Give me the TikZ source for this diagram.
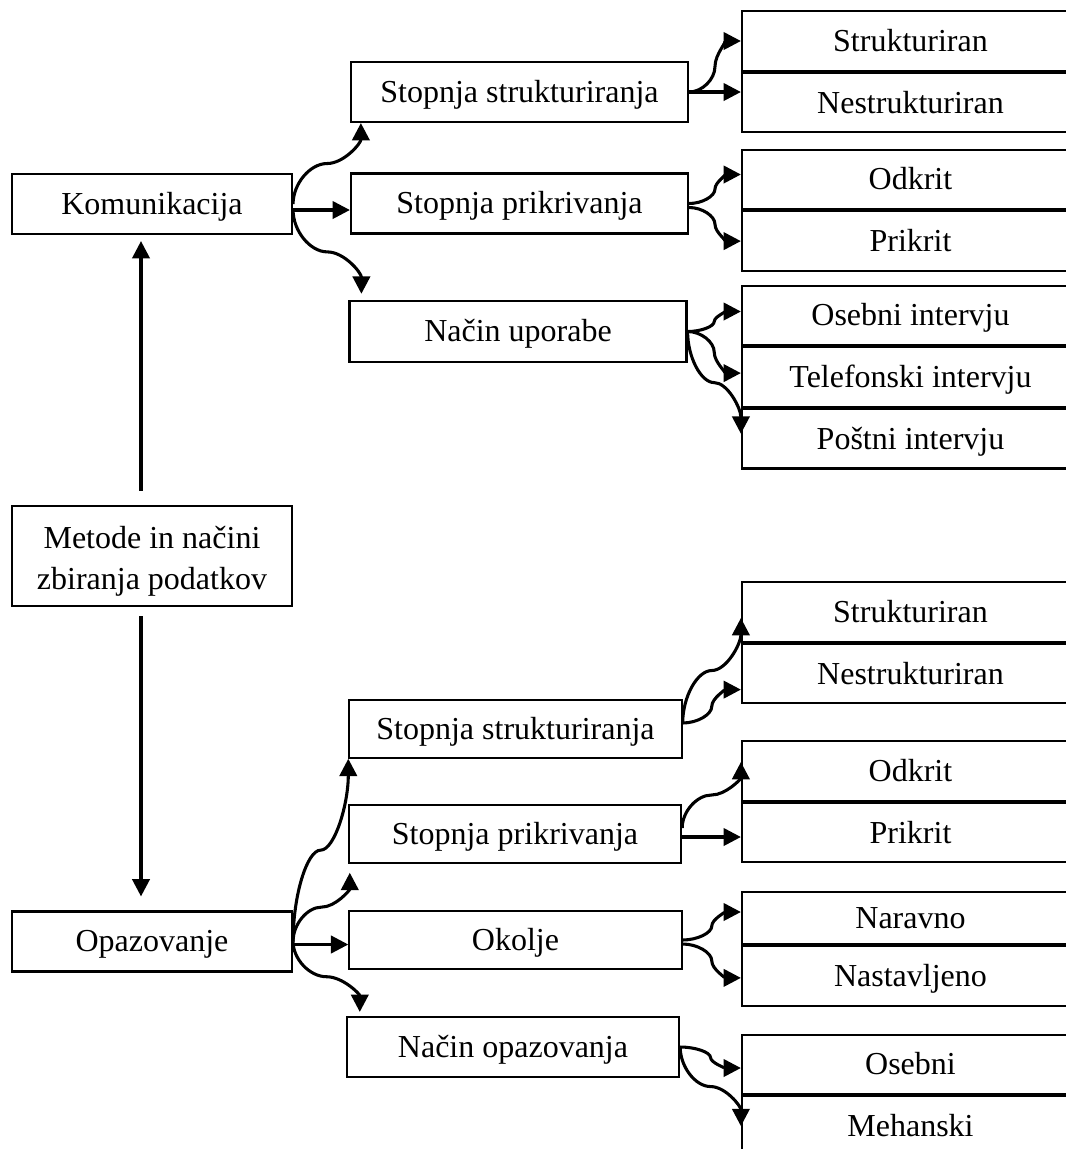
\documentclass[tikz,border=0pt]{standalone}
\usepackage{fontspec}
\setmainfont{Liberation Serif}
\usepackage{tikz}
\usetikzlibrary{positioning,arrows.meta,calc}

\begin{document}
\begin{tikzpicture}[
        x=0.375pt, y=-0.375pt,
        font=\fontsize{12pt}{15.5pt}\selectfont,
        frame/.style={rectangle, draw, line width=0.8pt, inner sep=0pt,
        align=center},
        txt/.style={text height=9.3pt, text depth=1.5pt},
        lbox/.style={frame, txt, minimum width=105pt, minimum height=22.5pt},
        mbox/.style={frame, txt, minimum width=126.4pt, minimum height=22.5pt},
        nbox/.style={frame, txt, minimum width=124.6pt, minimum height=21.5pt},
        cell/.style={frame, txt, minimum width=126.4pt, minimum height=22.3pt},
        arr/.style={-{Triangle[length=6.5pt, width=6.5pt]}, line width=1.15pt},
        vcurve/.style={to path={let \p1=(\tikztostart), \p2=(\tikztotarget),
        \p3=($(\p1)!.5!(\p2)$), \p4=($(\p1)!.5!(\p3)$), \p5=($(\p3)!.5!(\p2)$) in
        .. controls (\x1,\y4) and (\x4,\y3) .. (\p3)
        .. controls (\x5,\y3) and (\x2,\y5) .. (\p2)}},
        hcurve/.style={to path={let \p1=(\tikztostart), \p2=(\tikztotarget),
        \p3=($(\p1)!.5!(\p2)$), \p4=($(\p1)!.5!(\p3)$), \p5=($(\p3)!.5!(\p2)$) in
        .. controls (\x4,\y1) and (\x3,\y4) .. (\p3)
        .. controls (\x3,\y5) and (\x5,\y2) .. (\p2)}},
      ]
      \useasboundingbox (0,0) rectangle (1066,1149);
      \clip (0,0) rectangle (1066,1149);

      \node[lbox] (K) at (152, 204) {Komunikacija};
      \node[frame, minimum width=105pt, minimum height=37.5pt] (M) at (152, 556)
      {\rule{0pt}{12.5pt}Metode in načini\\zbiranja podatkov};
      \node[lbox] (Op) at (152, 941.5) {Opazovanje};

      \node[mbox] (SS1) at (519.5, 92) {Stopnja strukturiranja};
      \node[mbox] (SP1) at (519.5, 203.5) {Stopnja prikrivanja};
      \node[mbox, minimum height=23pt] (NU) at (518, 331.5) {Način uporabe};

      \node[nbox] (SS2) at (515.5, 729) {Stopnja strukturiranja};
      \node[nbox] (SP2) at (515, 834) {Stopnja prikrivanja};
      \node[nbox] (Ok) at (515.5, 940) {Okolje};
      \node[nbox, minimum height=22.5pt] (NO) at (513, 1047) {Način opazovanja};

      \node[cell] (S1) at (910.5, 41) {Strukturiran};
      \node[cell, below=0pt of S1] (N1) {Nestrukturiran};
      \node[cell] (O1) at (910.5, 179.5) {Odkrit};
      \node[cell, below=0pt of O1] (P1) {Prikrit};
      \node[cell] (Os) at (910.5, 315.5) {Osebni intervju};
      \node[cell, below=0pt of Os] (Te) {Telefonski intervju};
      \node[cell, below=0pt of Te] (Po) {Poštni intervju};

      \node[cell] (S2) at (910.5, 612) {Strukturiran};
      \node[cell, below=0pt of S2] (N2) {Nestrukturiran};
      \node[cell] (O2) at (910.5, 771) {Odkrit};
      \node[cell, below=0pt of O2] (P2) {Prikrit};
      \node[cell, minimum height=19.5pt] (Na) at (910.5, 918) {Naravno};
      \node[cell, below=0pt of Na] (Ns) {Nastavljeno};
      \node[cell] (Os2) at (910.5, 1064.5) {Osebni};
      \node[cell, below=0pt of Os2] (Me) {Mehanski};

      \draw[arr] ($(M.north)+(-11,-14)$) -- ($(K.south)+(-11,6)$);
      \draw[arr] ($(M.south)+(-11,9)$) -- ($(Op.north)+(-11,-14)$);

      \draw[arr] (K.east) to[vcurve] ($(SS1.south west)+(11,0)$);
      \draw[arr] ($(K.east)+(0,6)$) -- ($(K.east -| SP1.west)+(0,6)$);
      \draw[arr] ($(K.east)+(0,6)$) to[vcurve] ($(NU.north west)+(13,-6)$);

      \draw[arr] (SS1.east) to[hcurve] (S1.west);
      \draw[arr] (SS1.east) -- (SS1.east -| N1.west);
      \draw[arr] (SP1.east) to[hcurve] ($(O1.west)+(0,-5)$);
      \draw[arr] ($(SP1.east)+(0,4)$) to[hcurve] (P1.west);
      \draw[arr] (NU.east) to[hcurve] ($(Os.west)+(0,-4)$);
      \draw[arr] (NU.east) to[hcurve] ($(Te.west)+(0,-4)$);
      \draw[arr] (NU.east) to[vcurve] ($(Po.west)+(0,-5)$);

      \draw[arr] (Op.east) to[vcurve] (SS2.south west);
      \draw[arr] (Op.east) to[vcurve] ($(SP2.south west)+(2,9)$);
      \draw[arr] ($(Op.east)+(0,3)$) -- ($(Op.east -| Ok.west)+(0,3)$);
      \draw[arr] (Op.east) to[vcurve] ($(NO.north west)+(14,-4)$);

      \draw[arr] ($(SS2.east)+(0,-6)$) to[vcurve] ($(S2.west)+(0,6)$);
      \draw[arr] ($(SS2.east)+(0,-6)$) to[hcurve] ($(N2.west)+(0,16)$);
      \draw[arr] ($(SP2.east)+(0,-6)$) to[vcurve] ($(O2.west)+(0,-9)$);
      \draw[arr] ($(SP2.east)+(0,3)$) -- ($(SP2.east -| P2.west)+(0,3)$);
      \draw[arr] (Ok.east) to[hcurve] ($(Na.west)+(0,-6)$);
      \draw[arr] ($(Ok.east)+(0,4)$) to[hcurve] ($(Ns.west)+(0,2)$);
      \draw[arr] (NO.east) to[hcurve] ($(Os2.west)+(0,3.5)$);
      \draw[arr] (NO.east) to[vcurve] (Me.west);
    \end{tikzpicture}
\end{document}
